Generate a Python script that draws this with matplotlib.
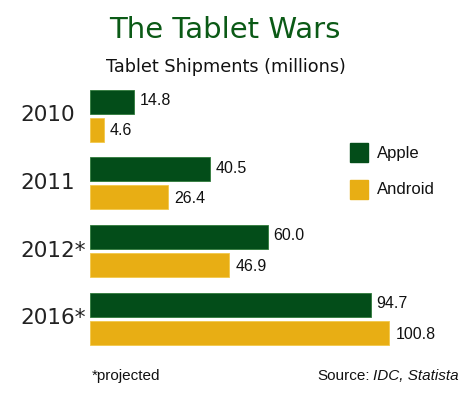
import numpy as np
import matplotlib.pyplot as plt
from matplotlib.patches import Rectangle

years = ['2010', '2011', '2012*', '2016*']
apple = [14.8, 40.5, 60.0, 94.7]
android = [4.6, 26.4, 46.9, 100.8]
apple_lbl = ['14.8', '40.5', '60.0', '94.7']
android_lbl = ['4.6', '26.4', '46.9', '100.8']

green = '#034d19'
gold = '#e8ae14'
narrow = 'Liberation Sans'

W, H = 473, 397
fig = plt.figure(figsize=(W / 100, H / 100), dpi=100)
fig.patch.set_facecolor('white')

# axes: left at x=90 px, right at 450 px, top 80 px, bottom 355 px
ax = fig.add_axes([90 / W, 1 - 355 / H, 360 / W, 275 / H])
ax.set_xlim(0, 360 / 2.97)
ax.set_ylim(3.53, -0.524)
ax.axis('off')

y = np.arange(len(years))
h = 0.354
off = 0.206
ax.barh(y - off, apple, height=h, color=green, edgecolor='#2f7a3a', linewidth=0.6)
ax.barh(y + off, android, height=h, color=gold, edgecolor='#f2c84a', linewidth=0.6)

for i in range(len(years)):
    ax.text(apple[i] + 1.8, y[i] - off - 0.02, apple_lbl[i], va='center', ha='left',
            fontsize=11.5, family=narrow, color='#111111')
    ax.text(android[i] + 2.0, y[i] + off + 0.02, android_lbl[i], va='center', ha='left',
            fontsize=11.5, family=narrow, color='#111111')
    fig.text(20 / W, 1 - (115 + 67.8 * i) / H, years[i], ha='left', va='center',
             fontsize=15.5, color='#222222')

# legend
for j, (lab, c) in enumerate([('Apple', green), ('Android', gold)]):
    ytop = 143 + j * 37
    fig.patches.append(Rectangle((350 / W, 1 - (ytop + 19) / H), 18 / W, 19 / H,
                                 transform=fig.transFigure, color=c))
    fig.text(377 / W, 1 - (ytop + 10) / H, lab, ha='left', va='center',
             fontsize=12, family=narrow, color='#111111')

fig.text(225 / W, 1 - 30 / H, 'The Tablet Wars', ha='center', va='center',
         fontsize=21, color='#0b5a16')
fig.text(226 / W, 1 - 67 / H, 'Tablet Shipments (millions)', ha='center', va='center',
         fontsize=12.7, color='#111111')
fig.text(92 / W, 1 - 376 / H, '*projected', ha='left', va='center',
         fontsize=11, family=narrow, color='#111111')
fig.text(317 / W, 1 - 376 / H, 'Source:', ha='left', va='center',
         fontsize=11, family=narrow, color='#111111')
fig.text(373 / W, 1 - 376 / H, 'IDC, Statista', ha='left', va='center',
         fontsize=11, family=narrow, style='italic', color='#111111')

fig.savefig('out.png', dpi=100)
